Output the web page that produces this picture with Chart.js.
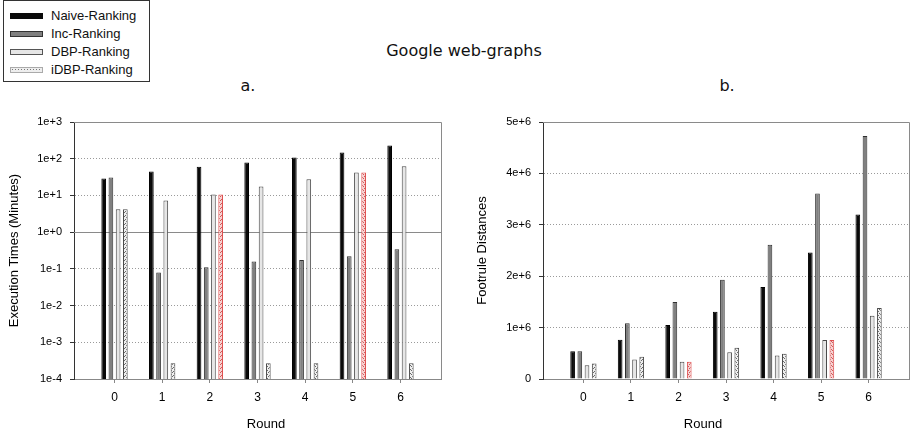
<!DOCTYPE html>
<html>
<head>
<meta charset="utf-8">
<title>Google web-graphs</title>
<script src="https://cdn.jsdelivr.net/npm/chart.js@4.4.1/dist/chart.umd.min.js"></script>
<style>
  html, body { margin: 0; padding: 0; background: #fff; }
  body { position: relative; width: 911px; height: 435px; overflow: hidden; }
  canvas { position: absolute; }
  #c1 { left: 0; top: 100px; }
  #c2 { left: 465px; top: 100px; }
  .head { position: absolute; font-family: 'DejaVu Sans', Verdana, sans-serif; font-size: 16px; line-height: 16px; color: #111; text-align: center; white-space: nowrap; }
  .axt { position: absolute; font-family: 'Liberation Sans', Arial, sans-serif; font-size: 13px; line-height: 13px; color: #000; text-align: center; white-space: nowrap; width: 80px; }
  #legend { position: absolute; left: 3px; top: 0; width: 145px; height: 80px; border: 1px solid #333; background: #fff;
            font-family: 'Liberation Sans', Arial, sans-serif; font-size: 13px; color: #111; }
  .row { position: absolute; left: 6px; height: 16px; line-height: 16px; width: 136px; }
  .sw { position: absolute; left: 0; top: 5px; width: 33px; height: 6px; box-sizing: border-box; }
  .lbl { position: absolute; left: 41px; top: 0; white-space: nowrap; }
</style>
</head>
<body>
<div id="legend"></div>
<div class="head" style="left:364px; top:43px; width:200px;">Google web-graphs</div>
<div class="head" style="left:228px; top:78px; width:40px;">a.</div>
<div class="head" style="left:707px; top:78px; width:40px;">b.</div>
<canvas id="c1" width="460" height="335" style="width:460px;height:335px"></canvas>
<canvas id="c2" width="446" height="335" style="width:446px;height:335px"></canvas>
<div class="axt" style="left:226px; top:417px;">Round</div>
<div class="axt" style="left:663px; top:417px;">Round</div>
<script>
// Rounds of incremental ranking on the Google web graph
const rounds = [0, 1, 2, 3, 4, 5, 6];
const roundLabels = ['0', '1', '2', '3', '4', '5', '6'];
const seriesNames = ['Naive-Ranking', 'Inc-Ranking', 'DBP-Ranking', 'iDBP-Ranking'];

// (a) execution times in minutes
const execNaive = [29, 45, 60, 79, 108, 148, 230];
const execInc   = [31, 0.08, 0.111, 0.159, 0.173, 0.222, 0.344];
const execDBP   = [4.2, 7.3, 10.6, 17.6, 27.8, 42, 62];
const execIDBP  = [4.2, 0.00027, 10.6, 0.00027, 0.00027, 42, 0.00027];
const execTicks = [1e-4, 1e-3, 1e-2, 1e-1, 1, 10, 100, 1000];
const execTickLabels = ['1e-4', '1e-3', '1e-2', '1e-1', '1e+0', '1e+1', '1e+2', '1e+3'];

// (b) footrule distances
const footNaive = [540000, 766000, 1050000, 1310000, 1790000, 2460000, 3200000];
const footInc   = [540000, 1084000, 1500000, 1930000, 2610000, 3610000, 4730000];
const footDBP   = [267000, 377000, 338000, 520000, 455000, 760000, 1230000];
const footIDBP  = [300000, 435000, 338000, 610000, 490000, 760000, 1380000];
const footTicks = [0, 1e6, 2e6, 3e6, 4e6, 5e6];
const footTickLabels = ['0', '1e+6', '2e+6', '3e+6', '4e+6', '5e+6'];

// rounds where the iDBP result coincides with DBP (outlined in red)
const sharedRounds = [2, 5];

const FONT = "'Liberation Sans', Arial, sans-serif";

function stipple(ctx, bg, dot) {
  const c = document.createElement('canvas');
  c.width = 4; c.height = 4;
  const g = c.getContext('2d');
  g.fillStyle = bg; g.fillRect(0, 0, 4, 4);
  g.fillStyle = dot;
  [[0, 0], [2, 1], [1, 3], [3, 2]].forEach(([x, y]) => g.fillRect(x, y, 1, 1));
  return ctx.createPattern(c, 'repeat');
}

// legend
const legendStyles = [
  'background:#0a0a0a;',
  'background:#808080;border:1px solid #333;',
  'background:#e6e6e6;border:1px solid #555;',
  'background-color:#eeeeee;background-image:radial-gradient(#777 0.7px, transparent 0.9px);background-size:3px 3px;border:1px solid #aaa;'
];
const legendTops = [7, 25, 43, 61];
const legendEl = document.getElementById('legend');
seriesNames.forEach((name, k) => {
  const row = document.createElement('div');
  row.className = 'row';
  row.style.top = legendTops[k] + 'px';
  row.innerHTML = '<span class="sw" style="' + legendStyles[k] + '"></span><span class="lbl">' + name + '</span>';
  legendEl.appendChild(row);
});

function buildDatasets(ctx, series) {
  const plain = stipple(ctx, '#efefef', '#6a6a6a');
  const red = stipple(ctx, '#f6d2d2', '#d05a5a');
  const fills = ['#0a0a0a', '#808080', '#e6e6e6', plain];
  const borders = ['#000000', '#303030', '#4a4a4a', '#4a4a4a'];
  return series.map((vals, k) => ({
    label: seriesNames[k],
    data: rounds.map((r, i) => ({ x: r, y: vals[i] })),
    backgroundColor: k === 3 ? (c => sharedRounds.includes(rounds[c.dataIndex]) ? red : plain) : fills[k],
    borderColor: k === 3 ? (c => sharedRounds.includes(rounds[c.dataIndex]) ? '#e05050' : borders[k]) : borders[k],
    borderWidth: 1
  }));
}

// frame on top/right of the plot, plus an optional solid reference line
const framePlugin = {
  id: 'frame',
  beforeDatasetsDraw(chart, args, opts) {
    const { ctx, chartArea: a } = chart;
    ctx.save();
    ctx.lineWidth = 1;
    ctx.strokeStyle = '#8a8a8a';
    if (opts.refValue !== undefined) {
      const y = Math.floor(chart.scales.y.getPixelForValue(opts.refValue)) + 0.5;
      ctx.beginPath(); ctx.moveTo(a.left, y); ctx.lineTo(a.right, y); ctx.stroke();
    }
    const t = Math.floor(a.top) + 0.5, r = Math.floor(a.right) + 0.5;
    ctx.beginPath();
    ctx.moveTo(a.left, t); ctx.lineTo(r, t); ctx.lineTo(r, a.bottom);
    ctx.stroke();
    ctx.restore();
  }
};

function makeChart(id, series, yScale, yWidth, rightPad, refValue) {
  const canvas = document.getElementById(id);
  const ctx = canvas.getContext('2d');
  return new Chart(ctx, {
    type: 'bar',
    data: { datasets: buildDatasets(ctx, series) },
    plugins: [framePlugin],
    options: {
      responsive: false,
      animation: false,
      devicePixelRatio: 1,
      layout: { padding: { top: 22, right: rightPad, left: 0, bottom: 0 } },
      datasets: { bar: { categoryPercentage: 0.605, barPercentage: 0.65 } },
      plugins: {
        legend: { display: false },
        tooltip: { enabled: false },
        frame: { refValue: refValue }
      },
      scales: {
        x: {
          type: 'linear',
          min: -0.85,
          max: 6.85,
          offset: false,
          afterBuildTicks: s => { s.ticks = rounds.map(v => ({ value: v })); },
          afterFit: s => { s.height = 56; },
          ticks: {
            autoSkip: false, maxRotation: 0, padding: 7, color: '#000',
            font: { family: FONT, size: 12 },
            callback: v => roundLabels[rounds.indexOf(v)]
          },
          grid: { display: true, offset: false, drawOnChartArea: false, drawTicks: true, tickLength: 4, color: '#888', tickColor: '#888' },
          border: { display: true, color: '#888', width: 1 }
        },
        y: Object.assign({
          afterFit: s => { s.width = yWidth; },
          border: { display: true, color: '#333', width: 1, dash: [1, 2] },
        }, yScale)
      }
    }
  });
}

const hidden = 'rgba(0,0,0,0)';

makeChart('c1', [execNaive, execInc, execDBP, execIDBP], {
  type: 'logarithmic',
  min: 1e-4,
  max: 1e3,
  afterBuildTicks: s => { s.ticks = execTicks.map(v => ({ value: v })); },
  ticks: {
    autoSkip: false, padding: 8, color: '#000',
    font: { family: FONT, size: 11 },
    callback: v => execTickLabels[execTicks.indexOf(v)]
  },
  grid: {
    offset: false, drawTicks: true, tickLength: 4, tickColor: '#333', lineWidth: 1,
    color: c => (c.tick && [1e-4, 1, 1e3].includes(c.tick.value)) ? hidden : '#9a9a9a'
  },
  title: { display: true, text: 'Execution Times (Minutes)', color: '#000', font: { family: FONT, size: 13 }, padding: { top: 7 } }
}, 74, 19, 1);

makeChart('c2', [footNaive, footInc, footDBP, footIDBP], {
  type: 'linear',
  min: 0,
  max: 5e6,
  afterBuildTicks: s => { s.ticks = footTicks.map(v => ({ value: v })); },
  ticks: {
    autoSkip: false, padding: 8, color: '#000',
    font: { family: FONT, size: 11 },
    callback: v => footTickLabels[footTicks.indexOf(v)]
  },
  grid: {
    offset: false, drawTicks: true, tickLength: 4, tickColor: '#333', lineWidth: 1,
    color: c => (c.tick && [0, 5e6].includes(c.tick.value)) ? hidden : '#9a9a9a'
  },
  title: { display: true, text: 'Footrule Distances', color: '#000', font: { family: FONT, size: 13 }, padding: { top: 10 } }
}, 78, 2);
</script>
</body>
</html>
